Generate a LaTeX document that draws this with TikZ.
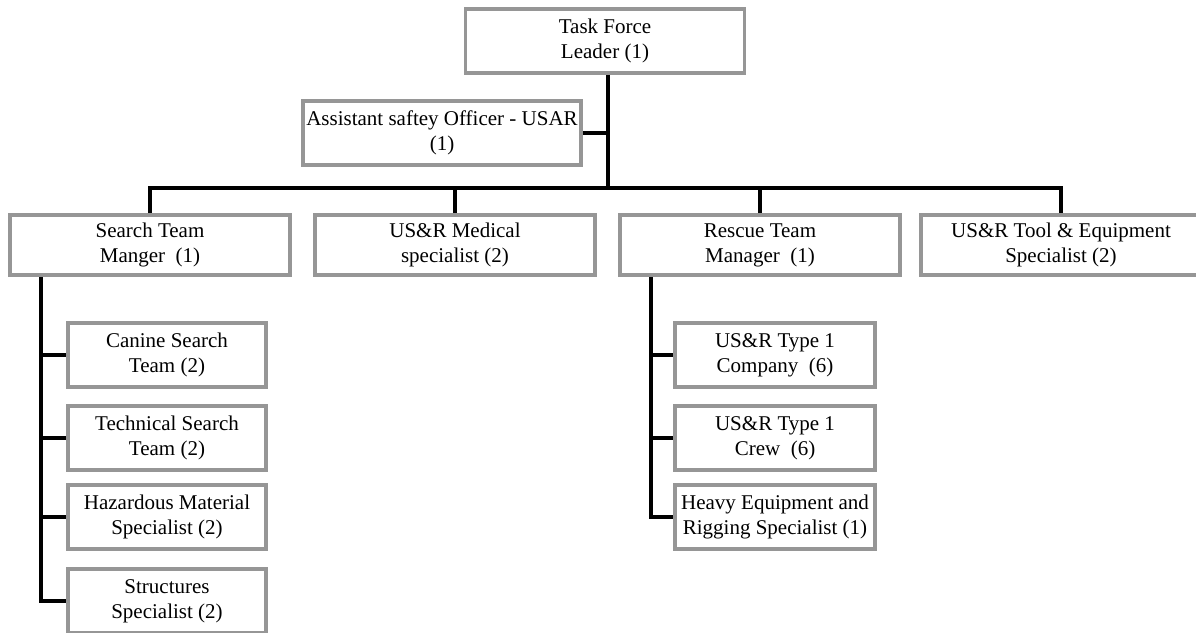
\documentclass[tikz,border=0pt]{standalone}
\usepackage{fontspec}
\setmainfont{Liberation Serif}
\definecolor{boxgray}{RGB}{150,150,150}
\tikzset{
    unit/.style={draw=boxgray, line width=3.6pt, fill=white, align=center, inner sep=0pt, minimum height=64pt},
    head/.style={unit, minimum width=280pt, minimum height=60pt},
    member/.style={unit, minimum width=198pt},
    link/.style={draw=black, line width=4pt}
}

\begin{document}
\begin{tikzpicture}
  [
    x                       = 1pt,
    y                       = -1pt,
    every node/.style       = {font=\fontsize{21}{25}\selectfont},
  ]
  \useasboundingbox (0,0) rectangle (1196,632);

  % top of the chart
  \node [unit, minimum width=279pt] (leader) at (605,41) {Task Force\\Leader (1)};
  \node [unit, minimum width=278pt] (safety) at (442,133) {Assistant saftey Officer - USAR\\(1)};

  % first level
  \node [head] (search)  at (150,245)  {Search Team\\Manger~ (1)};
  \node [head] (medical) at (455,245)  {US\&R Medical\\specialist (2)};
  \node [head] (rescue)  at (760,245)  {Rescue Team\\Manager~ (1)};
  \node [head] (tool)    at (1061,245) {US\&R Tool \& Equipment\\Specialist (2)};

  % search team
  \node [member] (canine)     at (167,355) {Canine Search\\Team (2)};
  \node [member] (technical)  at (167,438) {Technical Search\\Team (2)};
  \node [member] (hazmat)     at (167,517) {Hazardous Material\\Specialist (2)};
  \node [member] (structures) at (167,601) {Structures\\Specialist (2)};

  % rescue team
  \node [member, minimum width=200pt] (company) at (775,355) {US\&R Type 1\\Company~ (6)};
  \node [member, minimum width=200pt] (crew)    at (775,438) {US\&R Type 1\\Crew~ (6)};
  \node [member, minimum width=200pt] (rigging) at (775,517) {Heavy Equipment and\\Rigging Specialist (1)};

  % lines
  \coordinate (bar) at (608,188);
  \coordinate (searchline) at ([xshift=33pt]search.south west);
  \coordinate (rescueline) at ([xshift=33pt]rescue.south west);

  \draw [link] (bar |- leader.south) -- (bar);
  \draw [link] (safety.east) -- (safety.east -| bar);
  \draw [link] (search.north) -- (search.north |- bar) -- (tool.north |- bar) -- (tool.north);
  \draw [link] (medical.north) -- (medical.north |- bar);
  \draw [link] (rescue.north) -- (rescue.north |- bar);

  \draw [link] (searchline) |- (structures.west);
  \foreach \n in {canine, technical, hazmat}
    \draw [link] (searchline |- \n.west) -- (\n.west);

  \draw [link] (rescueline) |- (rigging.west);
  \foreach \n in {company, crew}
    \draw [link] (rescueline |- \n.west) -- (\n.west);
\end{tikzpicture}
\end{document}
